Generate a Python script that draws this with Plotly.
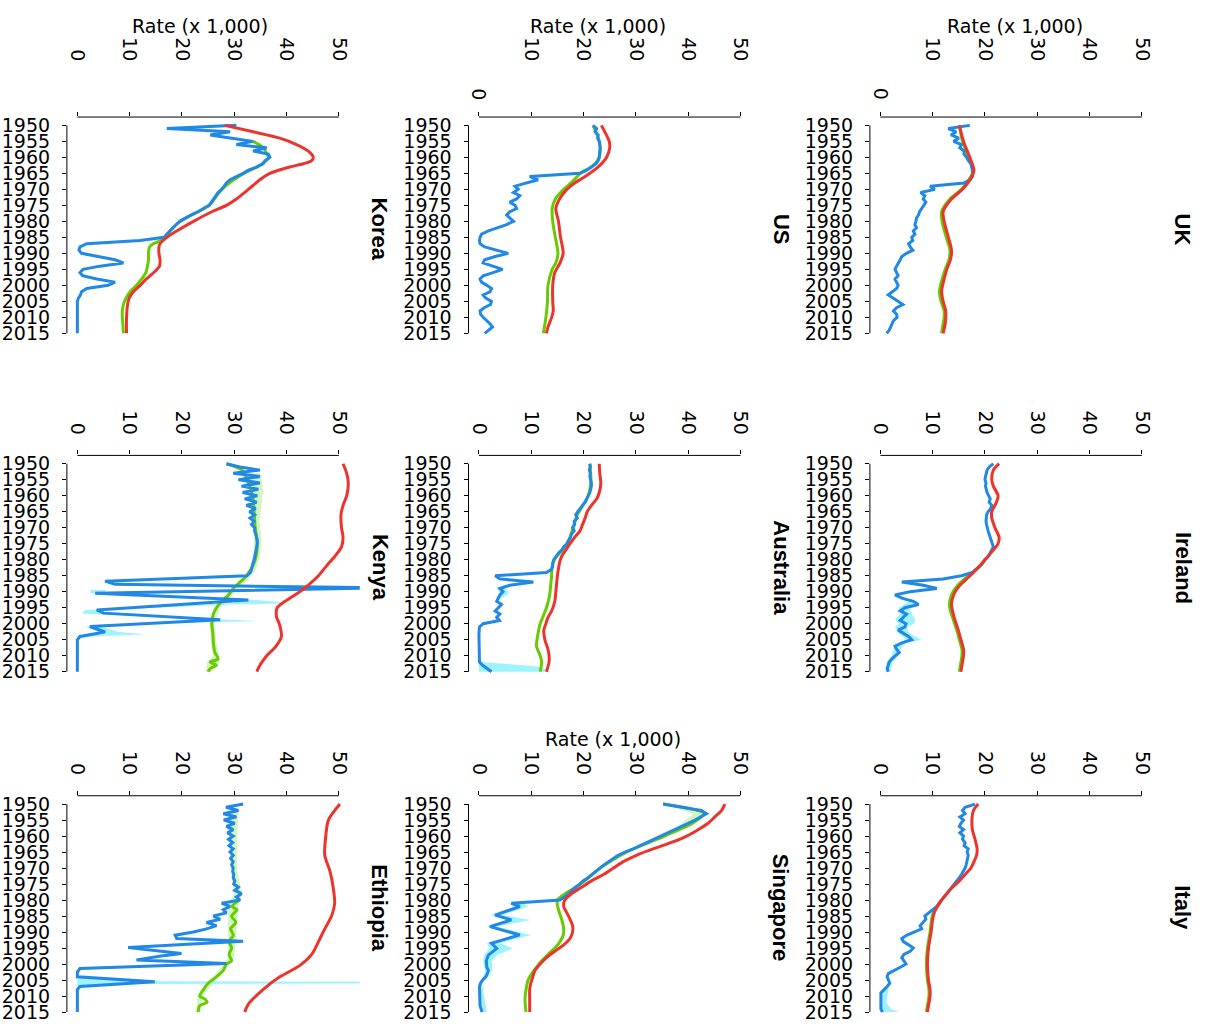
import plotly.graph_objects as go

# ---------------------------------------------------------------------------
# Data: rates per 1,000 by year.  Red / green / blue series plus uncertainty
# bands.  Annual lists start in 1950; (year, value) lists carry their own years.
# ---------------------------------------------------------------------------
YEARS = list(range(1950, 2016))
RATE_TICKS = [0, 10, 20, 30, 40, 50]
YEAR_TICKS = list(range(1950, 2016, 5))

UK_RED = [(1950, 15.1), (1955, 15.9), (1960, 17.1), (1964, 17.9), (1966, 17.5), (1970, 15.7),
          (1973, 13.6), (1977, 12.0), (1980, 12.2), (1985, 13.0), (1989, 13.6), (1992, 13.4),
          (1995, 12.7), (2000, 11.9), (2002, 11.7), (2005, 12.0), (2008, 12.5), (2010, 12.5),
          (2012, 12.4), (2015, 12.0)]
UK_GREEN = [(1950, 15.1), (1955, 15.7), (1960, 16.9), (1964, 17.7), (1966, 17.3), (1970, 15.5),
            (1973, 13.3), (1977, 11.7), (1980, 11.8), (1985, 12.6), (1989, 13.3), (1992, 13.1),
            (1995, 12.4), (2000, 11.5), (2002, 11.3), (2005, 11.6), (2008, 12.2), (2010, 12.2),
            (2012, 12.0), (2015, 11.7)]
UK_BLUE = [17.1, 13.0, 14.5, 13.5, 15.0, 14.0, 15.5, 15.2, 16.0, 16.0,
           16.5, 16.8, 17.3, 17.5, 17.6, 17.7, 17.6, 17.2, 16.0, 9.5,
           10.4, 7.7, 8.5, 8.2, 8.7, 8.3, 7.9, 7.5, 7.3, 6.9,
           6.8, 6.6, 6.9, 6.3, 6.6, 6.0, 6.2, 5.4, 5.7, 6.2,
           5.0, 4.1, 3.8, 3.4, 3.1, 2.8, 3.1, 3.4, 2.8, 3.1,
           3.4, 3.1, 2.2, 1.5, 2.5, 3.4, 4.3, 3.1, 2.5, 3.1,
           3.2, 2.5, 2.2, 2.0, 1.7, 1.2]

US_RED = [(1950, 23.4), (1955, 24.9), (1957, 25.0), (1960, 24.4), (1963, 22.8), (1966, 20.3),
          (1968, 18.3), (1970, 16.8), (1973, 15.4), (1976, 14.7), (1980, 15.2), (1985, 15.6),
          (1990, 16.1), (1993, 15.5), (1996, 14.5), (2000, 14.1), (2005, 14.1), (2008, 14.2),
          (2010, 13.9), (2013, 13.2), (2015, 12.9)]
US_GREEN = [(1950, 21.8), (1955, 23.0), (1960, 23.0), (1963, 21.5), (1965, 19.3), (1966, 18.8),
            (1968, 17.6), (1970, 16.2), (1973, 14.6), (1976, 14.0), (1980, 14.1), (1985, 14.6),
            (1990, 15.1), (1993, 14.7), (1995, 14.0), (2000, 13.2), (2005, 13.1), (2010, 12.8),
            (2015, 12.3)]
US_BLUE = [21.8, 22.5, 22.2, 22.8, 22.7, 23.0, 23.1, 23.2, 23.1, 23.1,
           23.0, 22.8, 22.4, 21.5, 20.6, 19.3, 9.7, 11.3, 9.1, 6.9,
           7.5, 6.6, 7.8, 7.2, 5.9, 6.9, 7.2, 5.9, 5.3, 5.9,
           6.6, 5.3, 3.4, 1.8, 0.5, 0.2, 0.1, 0.2, 1.1, 3.4,
           5.6, 3.1, 1.1, 0.8, 2.7, 4.5, 2.7, 0.8, 0.2, 0.5,
           1.5, 2.4, 2.1, 0.8, 1.3, 2.4, 2.2, 1.0, 0.2, 0.3,
           0.8, 1.5, 2.1, 2.6, 1.8, 1.1]

KOREA_RED = [(1950, 28.2), (1952, 33.6), (1954, 38.7), (1956, 41.9), (1958, 44.1), (1960, 45.1),
             (1961, 44.8), (1962, 43.2), (1963, 40.6), (1965, 36.8), (1967, 34.9), (1970, 32.7),
             (1973, 30.4), (1975, 28.5), (1977, 25.7), (1980, 22.2), (1983, 19.0), (1985, 17.1),
             (1987, 15.8), (1988, 15.6), (1990, 15.6), (1992, 15.8), (1994, 15.7), (1996, 14.6),
             (1998, 13.2), (2000, 12.0), (2002, 10.7), (2004, 9.9), (2006, 9.6), (2010, 9.4),
             (2015, 9.4)]
KOREA_GREEN = [(1955, 33.6), (1957, 35.6), (1959, 36.2), (1960, 36.7), (1961, 36.1), (1963, 34.4),
               (1965, 31.8), (1970, 27.6), (1975, 25.2), (1980, 19.6), (1985, 16.6), (1986, 16.0),
               (1987, 14.5), (1988, 13.8), (1990, 13.6), (1992, 13.6), (1994, 13.4), (1996, 13.1),
               (1998, 12.3), (2000, 11.3), (2002, 10.1), (2004, 9.3), (2006, 8.8), (2008, 8.6),
               (2010, 8.6), (2012, 8.7), (2015, 8.8)]
KOREA_BLUE = [30.4, 17.1, 29.2, 25.4, 29.5, 33.6, 30.4, 36.2, 33.6, 36.5,
              36.8, 35.9, 35.5, 34.3, 32.7, 31.7, 30.4, 29.2, 28.5, 28.0,
              27.6, 26.9, 26.5, 26.0, 25.7, 25.2, 24.1, 23.1, 21.8, 20.6,
              19.6, 18.9, 18.2, 17.7, 17.1, 16.6, 12.0, 1.8, 0.5, 0.3,
              0.8, 3.7, 7.2, 8.8, 4.3, 1.1, 0.5, 1.0, 3.7, 7.2,
              5.9, 1.8, 0.8, 0.6, 0.2, 0.0, 0.0, 0.0, 0.0, 0.0,
              0.0, 0.0, 0.0, 0.0, 0.0, 0.0]

IRELAND_RED = [(1950, 22.7), (1952, 21.6), (1955, 21.3), (1957, 21.6), (1960, 22.5), (1962, 22.2),
               (1965, 21.3), (1967, 21.3), (1970, 21.9), (1973, 22.7), (1975, 22.5), (1977, 21.6),
               (1980, 20.0), (1982, 19.0), (1984, 17.8), (1986, 16.5), (1988, 15.2), (1990, 14.3),
               (1992, 13.8), (1994, 13.6), (1996, 13.8), (1998, 14.1), (2000, 14.5), (2002, 14.9),
               (2005, 15.4), (2008, 15.9), (2010, 15.9), (2012, 15.7), (2015, 15.4)]
IRELAND_GREEN = [(1980, 20.0), (1982, 19.0), (1984, 17.6), (1986, 16.1), (1988, 14.8), (1990, 13.9),
                 (1992, 13.4), (1994, 13.2), (1996, 13.4), (1998, 13.8), (2000, 14.2), (2002, 14.6),
                 (2005, 15.1), (2008, 15.6), (2010, 15.6), (2012, 15.4), (2015, 15.1)]
IRELAND_BLUE = [21.6, 20.8, 20.4, 20.2, 20.1, 20.0, 20.2, 20.1, 20.2, 20.4,
                20.7, 21.0, 20.8, 21.3, 21.1, 20.6, 20.3, 20.2, 20.2, 20.3,
                20.4, 20.6, 20.8, 21.0, 21.3, 21.5, 21.6, 21.3, 21.0, 20.6,
                20.0, 19.6, 19.0, 18.3, 17.6, 15.5, 12.0, 4.1, 8.2, 10.8,
                5.7, 2.8, 4.1, 6.3, 7.3, 4.7, 3.8, 5.0, 4.4, 3.8,
                4.9, 4.7, 3.4, 4.4, 5.4, 6.0, 4.1, 2.8, 3.1, 3.6,
                2.8, 2.2, 1.7, 1.5, 1.3, 1.5]
IRELAND_BAND = [(1993, 5.5, 7.0), (1995, 3.5, 5.5), (1997, 3.8, 6.0), (1998.5, 2.8, 6.6),
                (2000, 3.5, 6.5), (2001, 2.8, 5.0), (2003, 3.5, 5.5), (2005, 5.0, 7.9),
                (2006, 3.5, 5.0), (2008, 2.5, 3.8), (2010, 2.2, 3.4), (2012, 1.2, 2.3),
                (2015, 1.0, 2.0)]

AUSTRALIA_RED = [(1950, 23.0), (1953, 23.1), (1956, 23.3), (1959, 23.0), (1961, 22.5), (1963, 21.5),
                 (1965, 20.7), (1967, 20.3), (1969, 19.8), (1971, 19.3), (1973, 18.3), (1975, 17.4),
                 (1977, 16.6), (1979, 15.8), (1981, 15.4), (1985, 15.0), (1990, 14.7), (1993, 14.5),
                 (1996, 13.9), (1998, 13.2), (2000, 12.8), (2002, 12.4), (2005, 12.6), (2008, 13.2),
                 (2010, 13.4), (2012, 13.4), (2015, 12.9)]
AUSTRALIA_GREEN = [(1950, 21.2), (1955, 21.4), (1960, 20.9), (1963, 19.9), (1966, 18.8), (1970, 18.0),
                   (1975, 16.9), (1980, 14.4), (1983, 13.9), (1985, 13.9), (1988, 13.7), (1990, 13.6),
                   (1992, 13.4), (1995, 12.9), (1998, 12.2), (2000, 11.7), (2003, 11.3), (2005, 11.1),
                   (2007, 11.0), (2010, 11.7), (2012, 12.0), (2015, 11.7)]
AUSTRALIA_BLUE = [21.2, 21.3, 21.1, 21.3, 21.2, 21.4, 21.5, 21.5, 21.4, 21.2,
                  20.9, 20.6, 20.3, 19.8, 19.3, 18.9, 18.5, 18.8, 18.2, 18.3,
                  17.9, 18.2, 17.7, 17.5, 17.1, 16.8, 16.2, 15.8, 15.2, 14.7,
                  14.3, 14.1, 14.1, 13.9, 12.9, 3.1, 4.0, 10.4, 5.9, 4.0,
                  4.6, 4.0, 3.7, 3.4, 4.3, 3.7, 3.1, 4.0, 3.4, 3.9,
                  0.8, 0.1, 0.0, 0.0, 0.0, 0.0, 0.0, 0.0, 0.0, 0.0,
                  0.0, 0.0, 0.1, 0.7, 1.6, 2.4]
AUSTRALIA_BAND = [(1988, 5.9, 5.9), (1989, 3.6, 5.0), (1990.5, 4.0, 5.8), (1992, 3.5, 4.2),
                  (1993, 3.4, 3.4), (2011, 0.0, 0.0), (2012, 0.0, 0.5), (2013, 0.0, 8.5),
                  (2013.5, 0.0, 11.7), (2015, 0.0, 13.6)]

KENYA_RED = [(1950, 50.8), (1953, 51.5), (1956, 51.8), (1960, 51.5), (1963, 50.8), (1966, 50.4),
             (1970, 50.5), (1973, 50.8), (1976, 50.5), (1979, 49.2), (1982, 47.6), (1985, 46.1),
             (1988, 44.1), (1990, 42.5), (1993, 39.7), (1995, 38.2), (1998, 38.1), (2000, 38.6),
             (2004, 39.0), (2007, 38.0), (2010, 36.2), (2013, 34.9), (2015, 34.3)]
KENYA_GREEN = [(1950, 28.5), (1952, 31.5), (1955, 32.5), (1960, 33.5), (1965, 33.8), (1970, 34.0),
               (1975, 34.4), (1980, 34.0), (1985, 32.4), (1987, 31.1), (1989, 29.8), (1991, 28.9),
               (1993, 27.6), (1995, 26.6), (1997, 26.0), (2000, 25.7), (2003, 25.9), (2006, 26.0),
               (2009, 26.3), (2011, 26.9), (2012, 25.4), (2013, 26.6), (2014, 25.4), (2015, 25.0)]
KENYA_BLUE = [(1950, 28.5), (1951, 31.1), (1952, 34.9), (1953, 29.8), (1954, 34.9), (1955, 30.8),
              (1956, 34.9), (1957, 31.4), (1958, 34.6), (1959, 31.6), (1960, 34.4), (1961, 32.0),
              (1962, 34.3), (1963, 32.3), (1964, 34.1), (1965, 32.9), (1966, 33.9), (1967, 33.0),
              (1968, 33.8), (1969, 33.3), (1970, 33.9), (1971, 33.9), (1972, 34.1), (1973, 34.3),
              (1974, 34.4), (1975, 34.4), (1976, 34.3), (1977, 34.1), (1978, 34.0), (1979, 33.9),
              (1980, 33.8), (1981, 33.6), (1982, 33.5), (1983, 33.3), (1984, 33.1), (1985, 32.4),
              (1986.7, 5.3), (1987.7, 7.2), (1988.8, 58.0), (1990.5, 3.4), (1992.6, 32.7),
              (1995.7, 3.7), (1996.7, 5.0), (1998.8, 27.3), (2000.9, 2.4), (2002.6, 5.3),
              (2004.0, 0.5), (2005.0, 0.0), (2015.0, 0.0)]
KENYA_BAND = [(1989.5, 2.5, 5.5), (1990.5, 2.5, 5.0), (1992.6, 30.5, 34.0), (1993.6, 30.0, 41.5),
              (1994.0, 26.0, 30.0), (1995.7, 1.5, 4.5), (1996.8, 0.8, 5.5), (1998.8, 25.5, 28.5),
              (1999.2, 25.5, 34.5), (1999.8, 14.0, 18.0), (2000.9, 1.5, 4.5), (2002.6, 4.0, 8.0),
              (2003.3, 6.0, 13.0), (2004.0, 0.0, 3.0), (2004.6, 0.0, 0.3)]
KENYA_GREEN_BAND = [(1953, 31.5, 35.0), (1958, 32.5, 35.5), (1963, 33.0, 35.2), (1968, 33.3, 34.8),
                    (1973, 33.8, 35.2), (1978, 33.7, 35.0), (1983, 33.0, 34.2), (1986, 31.3, 32.7),
                    (1990, 28.8, 30.2), (1995, 26.2, 27.3), (2000, 25.3, 26.2), (2005, 25.6, 26.5),
                    (2010, 25.9, 27.0), (2012, 24.8, 27.2), (2014, 24.7, 26.2), (2015, 24.5, 25.6)]

ITALY_RED = [(1950, 18.7), (1952, 17.8), (1955, 17.5), (1958, 17.6), (1961, 18.1), (1964, 18.5),
             (1966, 18.4), (1968, 17.9), (1970, 17.3), (1972, 16.2), (1974, 15.1), (1976, 13.8),
             (1978, 12.7), (1980, 11.7), (1982, 10.9), (1984, 10.3), (1986, 10.0), (1990, 9.7),
             (1995, 9.2), (2000, 9.0), (2005, 9.2), (2008, 9.5), (2010, 9.5), (2013, 9.2), (2015, 9.0)]
ITALY_GREEN = [(1980, 11.6), (1982, 10.8), (1984, 10.1), (1986, 9.8), (1990, 9.5), (1995, 9.0),
               (2000, 8.8), (2005, 9.0), (2008, 9.3), (2010, 9.3), (2013, 9.0), (2015, 8.8)]
ITALY_BLUE = [18.1, 16.2, 15.7, 16.2, 15.2, 15.9, 15.4, 15.1, 15.9, 15.2,
              15.9, 15.7, 16.2, 16.0, 16.8, 16.6, 16.8, 16.7, 16.5, 16.4,
              16.2, 15.9, 15.5, 15.1, 14.6, 14.1, 13.6, 13.2, 12.7, 12.2,
              11.7, 11.3, 10.8, 10.0, 9.2, 8.5, 8.7, 8.2, 7.6, 7.9,
              6.6, 5.0, 4.1, 4.4, 5.4, 6.3, 5.7, 4.5, 4.1, 4.5,
              4.9, 3.8, 2.5, 1.5, 1.3, 1.5, 1.8, 1.3, 0.6, 0.1,
              0.1, 0.1, 0.1, 0.1, 0.1, 0.4]
ITALY_BAND = [(2007, 1.0, 1.6), (2008, 0.3, 1.5), (2010, 0.0, 1.4), (2012, 0.0, 1.2),
              (2014, 0.0, 2.0), (2015, 0.0, 3.6)]

SINGAPORE_RED = [(1950, 47.0), (1952, 46.4), (1954, 45.1), (1956, 43.8), (1958, 41.9), (1960, 39.7),
                 (1962, 36.8), (1964, 33.3), (1966, 30.1), (1968, 27.6), (1970, 25.7), (1972, 23.8),
                 (1974, 21.5), (1976, 19.6), (1978, 17.7), (1980, 16.4), (1982, 16.2), (1984, 16.8),
                 (1986, 17.4), (1988, 17.9), (1990, 17.9), (1992, 17.4), (1994, 16.2), (1996, 14.5),
                 (1998, 12.9), (2000, 11.7), (2002, 10.7), (2004, 10.3), (2006, 9.9), (2008, 9.7),
                 (2011, 9.7), (2015, 9.7)]
SINGAPORE_GREEN = [(1950, 35.2), (1953, 43.0), (1956, 40.8), (1960, 35.5), (1965, 28.2), (1970, 23.2),
                   (1975, 19.4), (1980, 15.0), (1983, 15.2), (1986, 15.8), (1989, 16.2), (1991, 16.1),
                   (1993, 15.5), (1995, 14.5), (1997, 13.2), (1999, 12.0), (2001, 11.0), (2003, 10.1),
                   (2005, 9.4), (2008, 9.0), (2011, 8.8), (2015, 9.0)]
SINGAPORE_BLUE = [(1950, 35.2), (1951, 39.0), (1952, 42.5), (1953, 43.5), (1954, 42.5), (1955, 41.3),
                  (1956, 40.0), (1957, 38.7), (1958, 37.5), (1959, 36.2), (1960, 34.9), (1961, 33.6),
                  (1962, 32.4), (1963, 30.8), (1964, 29.5), (1965, 27.9), (1966, 26.6), (1967, 25.7),
                  (1968, 24.7), (1969, 23.9), (1970, 23.1), (1971, 22.4), (1972, 21.7), (1973, 20.9),
                  (1974, 19.9), (1975, 19.3), (1976, 18.5), (1977, 17.7), (1978, 17.1), (1979, 16.4),
                  (1980, 15.5), (1981, 6.2), (1982, 7.8), (1984.7, 3.1), (1986.2, 6.2), (1988.3, 2.1),
                  (1990.9, 7.8), (1993.5, 2.4), (1995.1, 3.4), (1997.2, 1.8), (1999, 1.4), (2001, 1.5),
                  (2002, 1.8), (2003, 1.6), (2004, 1.3), (2005, 0.7), (2006, 0.3), (2007, 0.1),
                  (2012, 0.1), (2013, 0.2), (2014, 0.4), (2015, 0.6)]
SINGAPORE_BAND = [(1981, 5.5, 8.5), (1982, 7.0, 9.5), (1984.7, 2.2, 4.5), (1986.2, 5.5, 9.8),
                  (1988.3, 1.5, 3.5), (1990.9, 7.0, 10.0), (1993.5, 1.5, 4.0), (1995.1, 2.0, 6.5),
                  (1997.2, 1.0, 3.5), (1999, 0.8, 2.5), (2002, 1.2, 2.5), (2004, 0.8, 1.8),
                  (2006, 0.1, 0.6), (2015, 0.3, 1.5)]
SINGAPORE_GREEN_BAND = [(1951, 37.0, 40.0), (1953, 41.0, 43.5), (1955, 39.5, 42.5),
                        (1957, 38.0, 40.5), (1959, 36.0, 37.5)]

ETHIOPIA_RED = [(1950, 50.2), (1955, 48.0), (1960, 47.5), (1966, 47.3), (1971, 48.3), (1976, 48.9),
                (1981, 49.2), (1985, 48.6), (1989, 47.3), (1993, 46.1), (1997, 44.8), (2000.5, 42.5),
                (2004, 38.7), (2008, 35.5), (2012.5, 32.7), (2015, 32.0)]
ETHIOPIA_GREEN = [(1980, 31.0), (1982, 29.6), (1983, 30.5), (1985, 29.5), (1987, 30.3), (1989, 29.3),
                  (1991, 29.8), (1993, 29.0), (1995, 29.5), (1997, 29.0), (1999, 29.5), (2000, 28.5),
                  (2002, 27.9), (2004, 26.6), (2006, 25.0), (2008, 24.1), (2010, 23.4), (2011, 24.4),
                  (2012, 24.8), (2013, 23.4), (2015, 23.1)]
ETHIOPIA_BLUE = [(1950, 31.7), (1951, 28.4), (1952, 30.8), (1953, 27.9), (1954, 30.4), (1955, 28.0),
                 (1956, 30.1), (1957, 28.5), (1958, 29.8), (1959, 28.7), (1960, 29.8), (1961, 28.9),
                 (1962, 29.7), (1963, 29.0), (1964, 29.8), (1965, 29.2), (1966, 29.8), (1967, 29.3),
                 (1968, 29.8), (1969, 29.5), (1970, 29.8), (1971, 29.7), (1972, 29.9), (1973, 29.8),
                 (1974, 30.1), (1975, 29.9), (1976, 30.8), (1977, 30.1), (1978, 31.4), (1979, 30.4),
                 (1980, 31.1), (1981, 27.6), (1982, 29.2), (1983, 27.9), (1984, 28.5), (1985, 26.0),
                 (1986, 27.3), (1987, 24.7), (1988, 26.6), (1989, 24.7), (1990, 22.2), (1991, 18.7),
                 (1992, 19.0), (1992.9, 31.7), (1994.8, 9.7), (1996.7, 19.9), (1997.5, 16.0),
                 (1998.7, 11.3), (1999.8, 28.5), (2001.4, 0.5), (2002.5, 0.0), (2004.0, 0.0),
                 (2005.5, 14.8), (2007.0, 0.5), (2008.0, 0.0), (2015.0, 0.0)]
ETHIOPIA_BAND = [(2004.4, 0.0, 0.5), (2005.1, 0.0, 12.0), (2005.4, 0.0, 16.0), (2005.5, 0.0, 60.0),
                 (2006.1, 0.0, 60.0), (2006.2, 0.0, 10.0), (2006.8, 0.0, 1.0), (2007.5, 0.0, 0.3)]
ETHIOPIA_GREEN_BAND = [(1952, 28.7, 30.8), (1960, 29.0, 30.6), (1970, 29.3, 30.5), (1978, 29.9, 31.4),
                       (1982, 28.8, 30.8), (1990, 28.8, 30.4), (1998, 28.8, 30.0), (2004, 26.0, 27.0),
                       (2010, 23.0, 24.0), (2015, 22.7, 23.6)]

# Panel grid: (title, row, col, red, green, blue, band, green band,
#              axis-title placement (x value, px above plot top) or None, lone "0" label)
PANELS = [
    ("UK", 0, 2, UK_RED, UK_GREEN, UK_BLUE, None, None, (25.8, 91.5), True),
    ("US", 0, 1, US_RED, US_GREEN, US_BLUE, None, None, (22.8, 91.5), True),
    ("Korea", 0, 0, KOREA_RED, KOREA_GREEN, KOREA_BLUE, None, None, (23.4, 91.5), False),
    ("Ireland", 1, 2, IRELAND_RED, IRELAND_GREEN, IRELAND_BLUE, IRELAND_BAND, None, None, False),
    ("Australia", 1, 1, AUSTRALIA_RED, AUSTRALIA_GREEN, AUSTRALIA_BLUE, AUSTRALIA_BAND, None, None, False),
    ("Kenya", 1, 0, KENYA_RED, KENYA_GREEN, KENYA_BLUE, KENYA_BAND, KENYA_GREEN_BAND, None, False),
    ("Italy", 2, 2, ITALY_RED, ITALY_GREEN, ITALY_BLUE, ITALY_BAND, None, None, False),
    ("Singapore", 2, 1, SINGAPORE_RED, SINGAPORE_GREEN, SINGAPORE_BLUE, SINGAPORE_BAND,
     SINGAPORE_GREEN_BAND, (25.7, 56.6), False),
    ("Ethiopia", 2, 0, ETHIOPIA_RED, ETHIOPIA_GREEN, ETHIOPIA_BLUE, ETHIOPIA_BAND,
     ETHIOPIA_GREEN_BAND, None, False),
]

# ---------------------------------------------------------------------------
# Styling and geometry
# ---------------------------------------------------------------------------
W, H = 1205, 1035
COL_LEFT = [66.9, 468.5, 869.9]     # plot-area left edges (px)
ROW_TOP = [114.6, 454.6, 796.6]     # plot-area top edges (px)
PLOT_W, PLOT_H = 292.9, 225.7
X_RANGE = [-2, 54]
Y_RANGE = [2017.6, 1947.4]          # reversed: 1950 at the top

RED = "#EC342D"
GREEN = "#66CC00"
BLUE = "#2188E5"
CYAN_BAND = "#9EF3FF"
GREEN_BAND = "#D2F5C2"

TICK_FONT = dict(family="DejaVu Sans", size=19, color="black")
TITLE_FONT = dict(family="Liberation Sans", size=22, color="black")


def unpack(series):
    if isinstance(series[0], tuple):
        yrs, vals = zip(*series)
        return list(vals), list(yrs)
    return list(series), YEARS[:len(series)]


def band_polygon(band):
    yrs = [b[0] for b in band]
    lo = [b[1] for b in band]
    hi = [b[2] for b in band]
    return hi + lo[::-1], yrs + yrs[::-1]


fig = go.Figure()
shapes, annotations = [], []

for k, (name, row, col, red, green, blue, band, gband, rate_title, lone_zero) in enumerate(PANELS, 1):
    sfx = "" if k == 1 else str(k)
    xr, yr = "x" + sfx, "y" + sfx

    left, top = COL_LEFT[col], ROW_TOP[row]
    xdom = [left / W, (left + PLOT_W) / W]
    ydom = [1 - (top + PLOT_H) / H, 1 - top / H]

    # uncertainty bands
    for b, colr in ((gband, GREEN_BAND), (band, CYAN_BAND)):
        if b:
            px, py = band_polygon(b)
            fig.add_trace(go.Scatter(x=px, y=py, fill="toself", fillcolor=colr,
                                     line=dict(width=0), mode="lines", hoverinfo="skip",
                                     xaxis=xr, yaxis=yr))

    gx, gy = unpack(green)
    fig.add_trace(go.Scatter(x=gx, y=gy, mode="lines", xaxis=xr, yaxis=yr,
                             line=dict(color=GREEN, width=3, shape="spline", smoothing=0.8)))
    bx, by = unpack(blue)
    fig.add_trace(go.Scatter(x=bx, y=by, mode="lines", xaxis=xr, yaxis=yr,
                             line=dict(color=BLUE, width=3)))
    rx, ry = unpack(red)
    fig.add_trace(go.Scatter(x=rx, y=ry, mode="lines", xaxis=xr, yaxis=yr,
                             line=dict(color=RED, width=3, shape="spline", smoothing=0.8)))

    ticktext = [str(v) for v in RATE_TICKS]
    if lone_zero:
        ticktext[0] = ""
    fig.layout["xaxis" + sfx] = dict(
        domain=xdom, range=X_RANGE, anchor=yr, side="top",
        tickvals=RATE_TICKS, ticktext=ticktext, tickangle=90,
        ticks="outside", ticklen=4, tickcolor="black", tickwidth=1,
        ticklabelstandoff=44 if row == 0 else 9,
        showgrid=False, zeroline=False, showline=False, tickfont=TICK_FONT,
    )
    fig.layout["yaxis" + sfx] = dict(
        domain=ydom, range=Y_RANGE, anchor=xr,
        tickvals=YEAR_TICKS, ticks="outside", ticklen=4, tickcolor="black", tickwidth=1,
        ticklabelstandoff=8,
        showgrid=False, zeroline=False, showline=False, tickfont=TICK_FONT,
    )

    # partial axis lines spanning only the tick range
    shapes.append(dict(type="line", xref=xr, yref=yr + " domain", x0=0, x1=50, y0=1, y1=1,
                       line=dict(color="black", width=1)))
    shapes.append(dict(type="line", xref=xr + " domain", yref=yr, x0=0, x1=0, y0=1950, y1=2015,
                       line=dict(color="black", width=1)))

    # panel title, rotated along the right side
    annotations.append(dict(text="<b>%s</b>" % name, xref="paper", yref="paper",
                            x=(left + PLOT_W + 20) / W, y=1 - (top + PLOT_H / 2) / H,
                            textangle=90, showarrow=False, font=TITLE_FONT,
                            xanchor="center", yanchor="middle"))
    if rate_title is not None:
        tx, above = rate_title
        annotations.append(dict(text="Rate (x 1,000)", xref=xr, yref="paper", x=tx,
                                y=1 - (top - above) / H, showarrow=False, font=TICK_FONT,
                                xanchor="center", yanchor="middle"))
    if lone_zero:
        annotations.append(dict(text="0", xref=xr, yref="paper", x=0,
                                y=1 - (top - 23) / H, textangle=90, showarrow=False,
                                font=TICK_FONT, xanchor="center", yanchor="middle"))

fig.update_layout(
    width=W, height=H, margin=dict(l=0, r=0, t=0, b=0),
    paper_bgcolor="white", plot_bgcolor="white", showlegend=False,
    shapes=shapes, annotations=annotations,
)

fig.write_html("out.html")
